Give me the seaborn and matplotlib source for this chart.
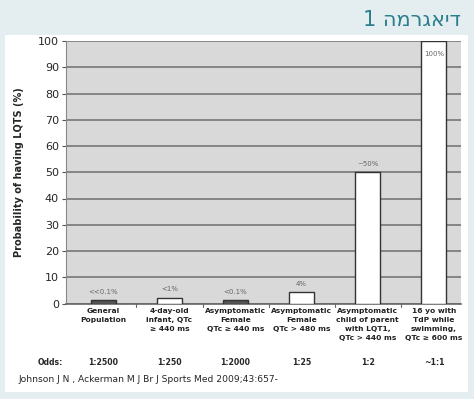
import matplotlib
matplotlib.use("Agg")
import matplotlib.pyplot as plt
import pandas as pd
import seaborn as sns

sns.set_style("white")
plt.rcParams["font.family"] = ["DejaVu Sans"]

# data
groups = [
    "General\nPopulation",
    "4-day-old\ninfant, QTc\n≥ 440 ms",
    "Asymptomatic\nFemale\nQTc ≥ 440 ms",
    "Asymptomatic\nFemale\nQTc > 480 ms",
    "Asymptomatic\nchild of parent\nwith LQT1,\nQTc > 440 ms",
    "16 yo with\nTdP while\nswimming,\nQTc ≥ 600 ms",
]
probability = [1.2, 2.2, 1.2, 4.4, 50, 100]
bar_labels = ["<<0.1%", "<1%", "<0.1%", "4%", "~50%", "100%"]
odds = ["1:2500", "1:250", "1:2000", "1:25", "1:2", "~1:1"]
bar_colors = ["#555555", "white", "#555555", "white", "white", "white"]

title_he = "דיאגרמה"
citation = "Johnson J N , Ackerman M J Br J Sports Med 2009;43:657-"

df = pd.DataFrame({"group": groups, "prob": probability})

fig = plt.figure(figsize=(4.74, 3.99), dpi=100)
fig.patch.set_facecolor("#e4eef1")

# white panel under the header band
bg = fig.add_axes([5 / 474, 7 / 399, 463 / 474, 357 / 399], zorder=-5)
bg.set_facecolor("white")
bg.set_xticks([])
bg.set_yticks([])
for s in bg.spines.values():
    s.set_visible(False)

# header title (drawn in visual order, matplotlib has no bidi)
fig.text(461 / 474, 1 - 20 / 399, "1 " + title_he[::-1], ha="right", va="center",
         fontsize=15, color="#2b7f8c")

ax = fig.add_axes([66 / 474, 1 - 303.5 / 399, 395 / 474, 262.5 / 399])
ax.set_facecolor("#d9d9d9")
sns.barplot(data=df, x="group", y="prob", ax=ax, width=0.38,
            palette=bar_colors, hue="group", legend=False,
            edgecolor="#333333", linewidth=1.0, zorder=3)

ax.set_ylim(0, 100)
ax.set_xlim(-0.565, 5.41)
ax.set_yticks(range(0, 101, 10))
ax.tick_params(axis="y", labelsize=8, length=3, color="#555555", pad=2, left=True)
ax.tick_params(axis="x", length=0, labelsize=5.4, pad=3)
for lbl in ax.get_xticklabels():
    lbl.set_fontweight("bold")
    lbl.set_linespacing(1.65)
    lbl.set_color("#222222")
ax.yaxis.grid(True, color="#777777", linewidth=1.2, zorder=1)
ax.set_axisbelow(True)
for side in ["top", "right"]:
    ax.spines[side].set_visible(False)
ax.spines["left"].set_color("#888888")
ax.spines["bottom"].set_color("#666666")
ax.spines["bottom"].set_linewidth(1.2)
ax.set_xlabel("")
ax.set_ylabel("Probability of having LQTS (%)", fontsize=7, fontweight="bold", labelpad=10)

# small ticks between the categories
for i in range(len(groups) - 1):
    ax.plot([i + 0.5, i + 0.5], [0, -1.2], color="#666666", lw=0.8, clip_on=False)

# value labels above (or inside) the bars
for i, (v, t) in enumerate(zip(probability, bar_labels)):
    y = v - 6 if v >= 100 else v + 2
    ax.text(i, y, t, ha="center", va="bottom", fontsize=5, color="#666666", zorder=4)

# odds row
ax.text(-0.8, -22.5, "Odds:", ha="center", va="center",
        fontsize=5.6, fontweight="bold", clip_on=False)
for i, o in enumerate(odds):
    ax.text(i, -22.5, o, ha="center", va="center", fontsize=5.6,
            fontweight="bold", clip_on=False)

fig.text(18 / 474, 1 - 379 / 399, citation, ha="left", va="center", fontsize=6.6)

fig.savefig("out.png", dpi=100, facecolor=fig.get_facecolor())
